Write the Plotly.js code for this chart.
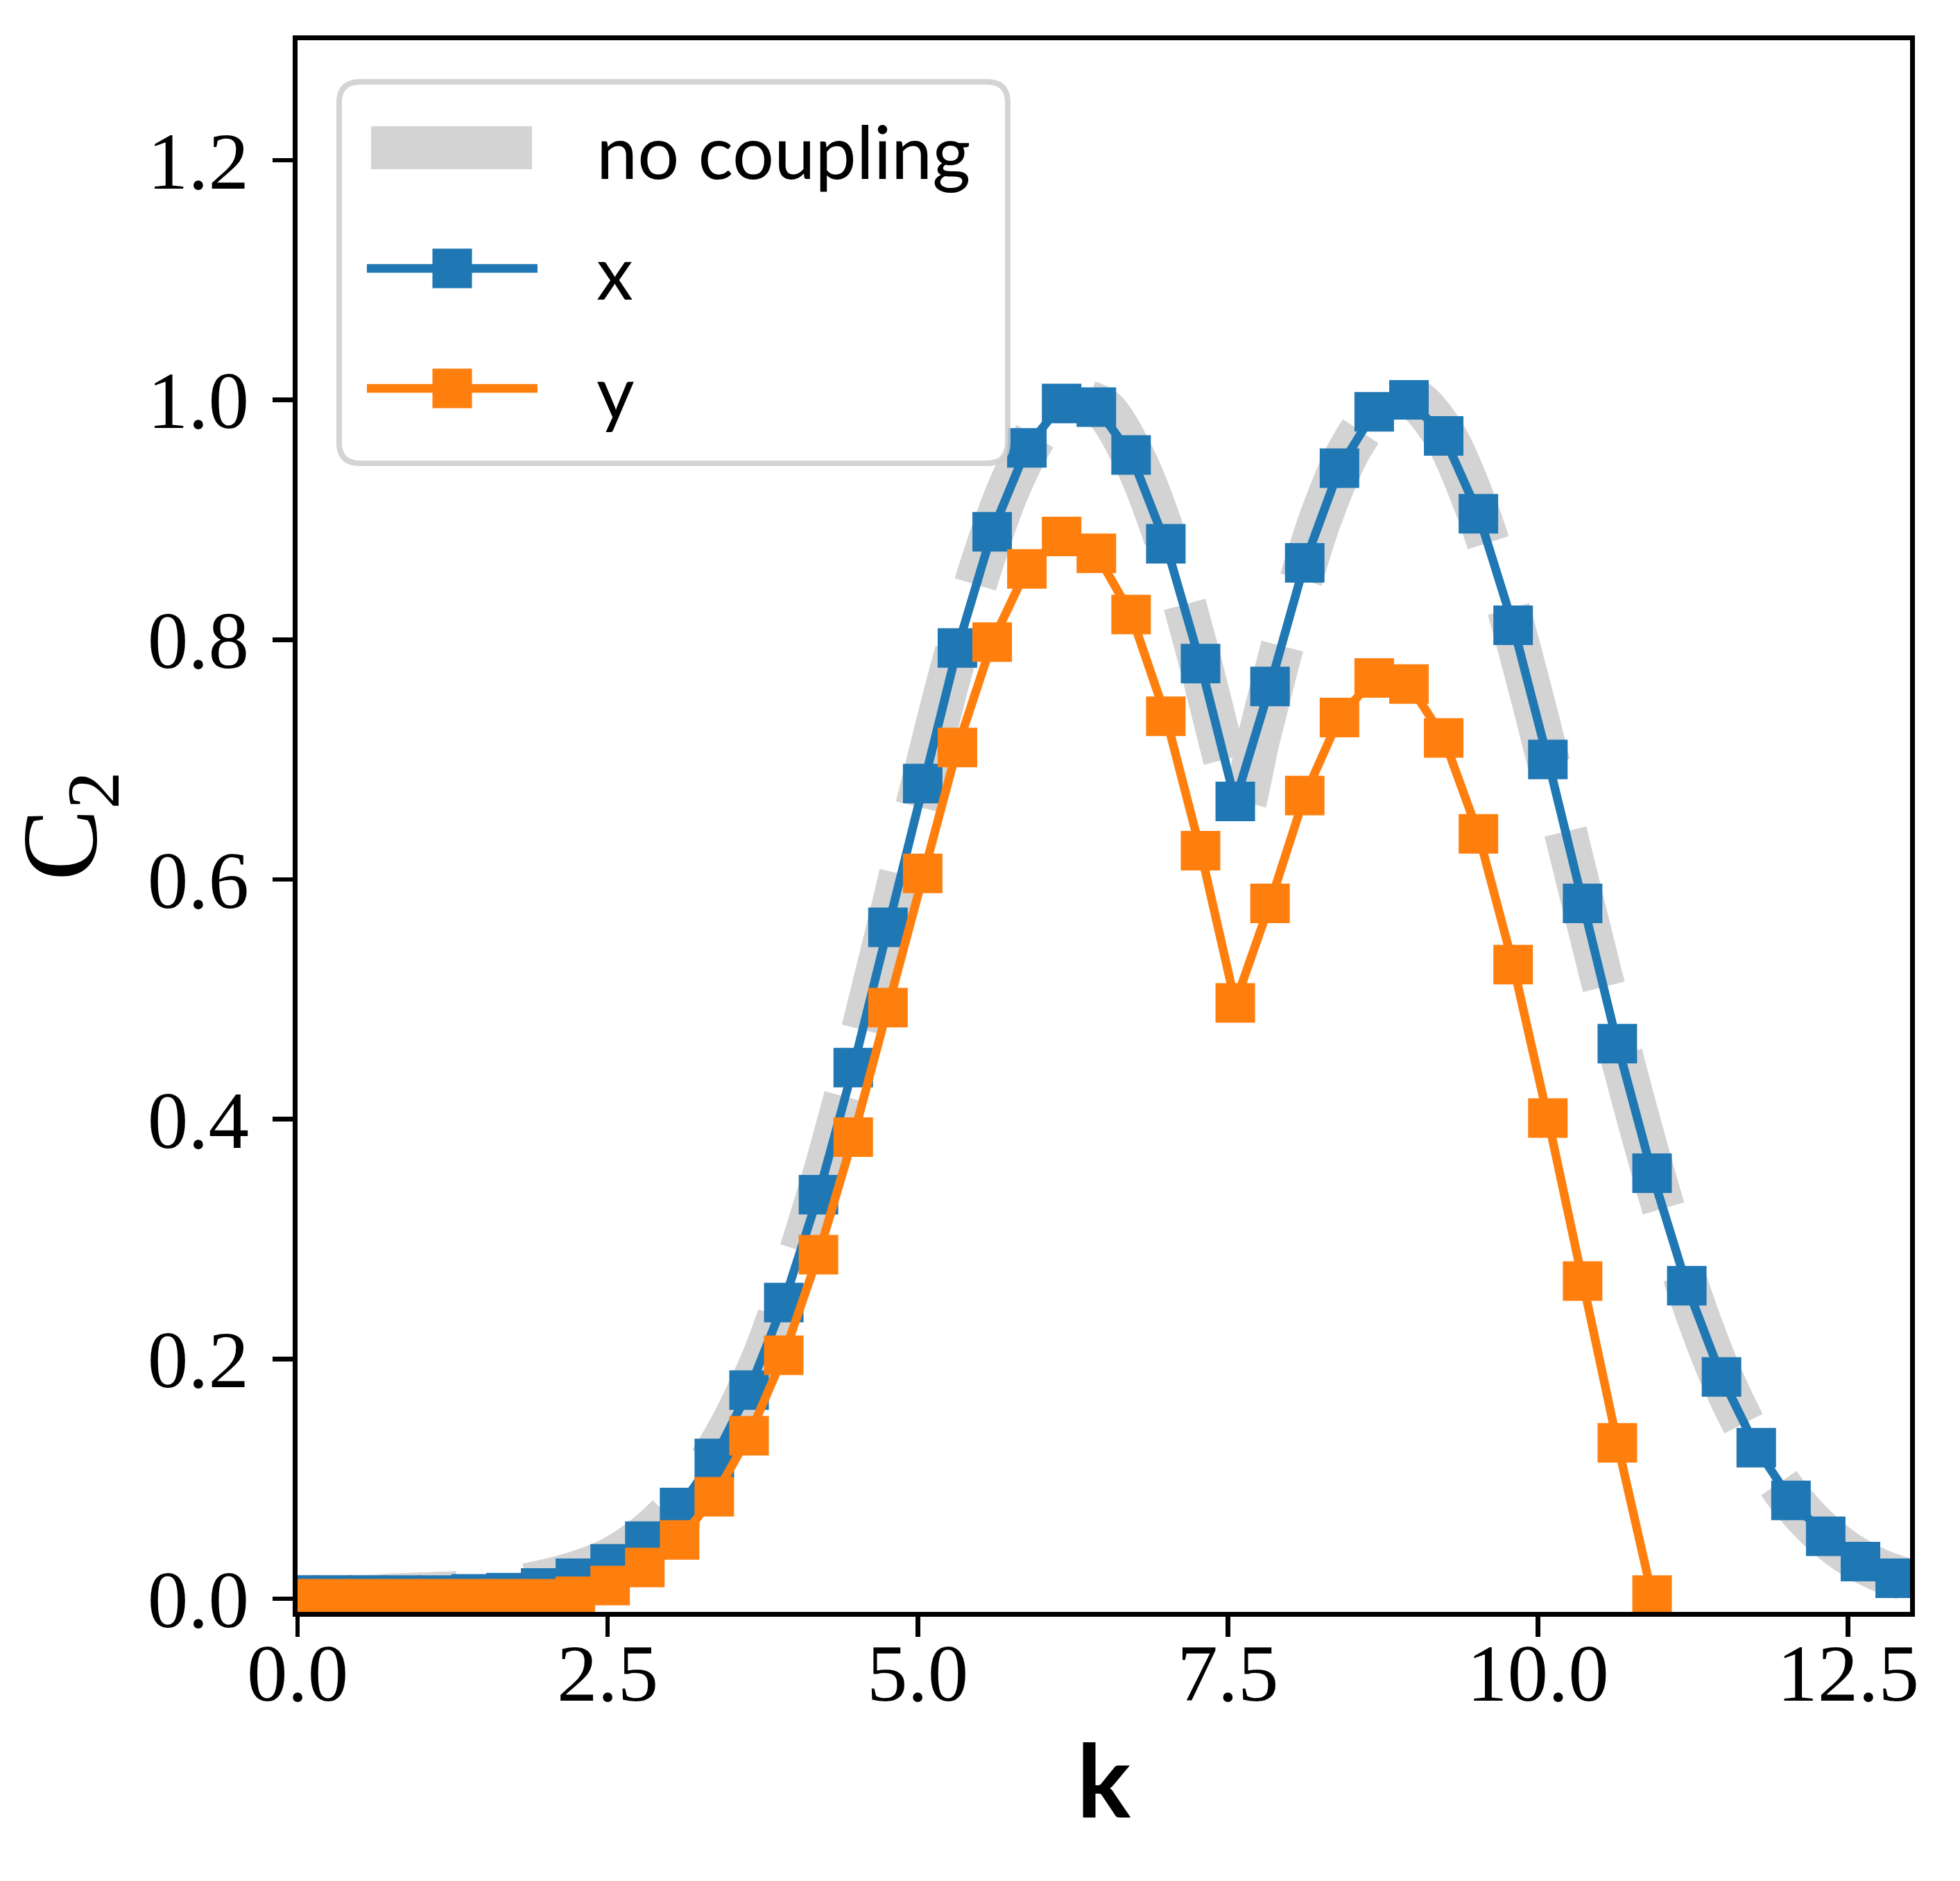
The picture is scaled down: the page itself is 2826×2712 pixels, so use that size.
<!DOCTYPE html>
<html>
<head>
<meta charset="utf-8">
<script src="https://cdn.plot.ly/plotly-3.0.1.min.js"></script>
<style>
  html, body { margin: 0; padding: 0; background: #fff; }
  #plot { width: 2826px; height: 2712px; }
</style>
</head>
<body>
<div id="plot"></div>
<script>
// sampled k values (markers)
const k = [0, 0.28, 0.56, 0.84, 1.12, 1.4, 1.68, 1.96, 2.24, 2.52, 2.8, 3.08, 3.36, 3.64, 3.92,
  4.2, 4.48, 4.76, 5.04, 5.32, 5.6, 5.88, 6.16, 6.44, 6.72, 7.0, 7.28, 7.56, 7.84, 8.12,
  8.4, 8.68, 8.96, 9.24, 9.52, 9.8, 10.08, 10.36, 10.64, 10.92, 11.2, 11.48, 11.76, 12.04,
  12.32, 12.6, 12.88];

// C2 along x
const c2x = [0.003, 0.003, 0.003, 0.003, 0.003, 0.004, 0.005, 0.009, 0.017, 0.029, 0.048, 0.076,
  0.117, 0.174, 0.247, 0.337, 0.443, 0.560, 0.680, 0.793, 0.890, 0.960, 0.997, 0.994, 0.954,
  0.880, 0.780, 0.665, 0.761, 0.864, 0.943, 0.990, 1.000, 0.970, 0.905, 0.812, 0.700, 0.580,
  0.463, 0.355, 0.261, 0.185, 0.126, 0.082, 0.052, 0.031, 0.017];

// C2 along y (stops at k = 10.92)
const c2y = [0.0, 0.0, 0.0, 0.0, 0.0, 0.0, 0.0, 0.0, 0.002, 0.011, 0.026, 0.049, 0.085, 0.136,
  0.203, 0.287, 0.385, 0.493, 0.605, 0.710, 0.798, 0.859, 0.886, 0.872, 0.821, 0.736, 0.624,
  0.497, 0.580, 0.670, 0.735, 0.768, 0.763, 0.718, 0.638, 0.529, 0.401, 0.265, 0.130, 0.003];

// no coupling reference curve
const kRef = [0, 0.25, 0.5, 0.75, 1.0, 1.25, 1.5, 1.75, 2.0, 2.25, 2.5, 2.75, 3.0, 3.25, 3.5,
  3.75, 4.0, 4.25, 4.5, 4.75, 5.0, 5.25, 5.5, 5.75, 6.0, 6.25, 6.5, 6.75, 7.0, 7.25, 7.5, 7.6,
  7.75, 8.0, 8.25, 8.5, 8.75, 9.0, 9.25, 9.5, 9.75, 10.0, 10.25, 10.5, 10.75, 11.0, 11.25,
  11.5, 11.75, 12.0, 12.25, 12.5, 12.75, 13.0];
const c2Ref = [0.002, 0.002, 0.002, 0.003, 0.004, 0.005, 0.007, 0.010, 0.015, 0.022, 0.032,
  0.048, 0.071, 0.102, 0.145, 0.200, 0.272, 0.356, 0.452, 0.556, 0.664, 0.767, 0.858, 0.930,
  0.978, 1.000, 0.992, 0.950, 0.883, 0.792, 0.690, 0.655, 0.718, 0.818, 0.902, 0.962, 0.995,
  1.000, 0.970, 0.911, 0.830, 0.733, 0.628, 0.523, 0.423, 0.330, 0.247, 0.180, 0.128, 0.088,
  0.059, 0.038, 0.024, 0.015];

const names = ["no coupling", "x", "y"];
const xTicks = [0, 2.5, 5, 7.5, 10, 12.5];
const yTicks = [0, 0.2, 0.4, 0.6, 0.8, 1.0, 1.2];

const W = 2826, H = 2712;
const margin = { l: 429, r: 72, t: 58, b: 388 };
const plotW = W - margin.l - margin.r;
const plotH = H - margin.t - margin.b;

const grey = "#d3d3d3", blue = "#1f77b4", orange = "#ff7f0e";
const serif = "Liberation Serif, DejaVu Serif, serif";
const sans = "Lato, Open Sans, sans-serif";

const traces = [
  {
    type: "scatter", mode: "lines", name: names[0],
    x: kRef, y: c2Ref,
    line: { color: grey, width: 62, dash: "231px,100px", shape: "spline", smoothing: 0.8 },
    hoverinfo: "skip",
  },
  {
    type: "scatter", mode: "lines+markers", name: names[1],
    x: k, y: c2x,
    line: { color: blue, width: 12.5 },
    marker: { symbol: "square", size: 57, color: blue, line: { width: 0 } },
  },
  {
    type: "scatter", mode: "lines+markers", name: names[2],
    x: k.slice(0, c2y.length), y: c2y,
    line: { color: orange, width: 12.5 },
    marker: { symbol: "square", size: 57, color: orange, line: { width: 0 } },
  },
];

// legend drawn by hand, positions in figure pixels converted to paper units
const px = (x) => (x - margin.l) / plotW;
const py = (y) => (H - margin.b - y) / plotH;

function roundRect(x0, y0, x1, y1, r) {
  const rx = r / plotW, ry = r / plotH;
  const a = px(x0), b = px(x1), t = py(y0), u = py(y1);
  return `M${a + rx},${t} L${b - rx},${t} Q${b},${t} ${b},${t - ry} ` +
    `L${b},${u + ry} Q${b},${u} ${b - rx},${u} L${a + rx},${u} Q${a},${u} ${a},${u + ry} ` +
    `L${a},${t - ry} Q${a},${t} ${a + rx},${t} Z`;
}

const rowY = [213, 387, 560];
const shapes = [
  {
    type: "path", xref: "paper", yref: "paper", layer: "above",
    path: roundRect(489, 118, 1453, 668, 30),
    fillcolor: "rgba(255,255,255,0.8)",
    line: { color: "rgba(204,204,204,0.85)", width: 8 },
  },
  {
    type: "line", xref: "paper", yref: "paper", layer: "above",
    x0: px(535), x1: px(767), y0: py(rowY[0]), y1: py(rowY[0]),
    line: { color: grey, width: 62 },
  },
];
[[blue, rowY[1]], [orange, rowY[2]]].forEach(([c, yy]) => {
  shapes.push({
    type: "line", xref: "paper", yref: "paper", layer: "above",
    x0: px(529), x1: px(775), y0: py(yy), y1: py(yy),
    line: { color: c, width: 12.5 },
  });
  shapes.push({
    type: "rect", xref: "paper", yref: "paper", layer: "above",
    x0: px(652 - 28.5), x1: px(652 + 28.5), y0: py(yy - 28.5), y1: py(yy + 28.5),
    fillcolor: c, line: { width: 0 },
  });
});

const annotations = names.map((n, i) => ({
  xref: "paper", yref: "paper", x: px(858), y: py(rowY[i] + 4),
  xanchor: "left", yanchor: "middle", showarrow: false,
  text: n, font: { family: sans, size: 106, color: "#000" },
}));

const axisCommon = {
  showgrid: false, zeroline: false,
  showline: true, linecolor: "#000", linewidth: 6.7, mirror: true,
  ticks: "outside", ticklen: 29, tickwidth: 6.7, tickcolor: "#000",
  tickfont: { family: serif, size: 117, color: "#000" },
  tickformat: ".1f", tickmode: "array",
};

const layout = {
  width: W, height: H,
  margin: margin,
  paper_bgcolor: "#fff", plot_bgcolor: "#fff",
  showlegend: false,
  xaxis: Object.assign({}, axisCommon, {
    range: [0, 13], tickvals: xTicks, ticklabelstandoff: -48,
    title: { text: "<b>k</b>", font: { family: sans, size: 145, color: "#000" }, standoff: 45 },
  }),
  yaxis: Object.assign({}, axisCommon, {
    range: [-0.011, 1.3], tickvals: yTicks, ticklabelstandoff: 11,
    title: { text: "C<sub>2</sub>", font: { family: serif, size: 155, color: "#000" }, standoff: 55 },
  }),
  shapes: shapes,
  annotations: annotations,
};

Plotly.newPlot("plot", traces, layout, { displayModeBar: false, staticPlot: true });
</script>
</body>
</html>
